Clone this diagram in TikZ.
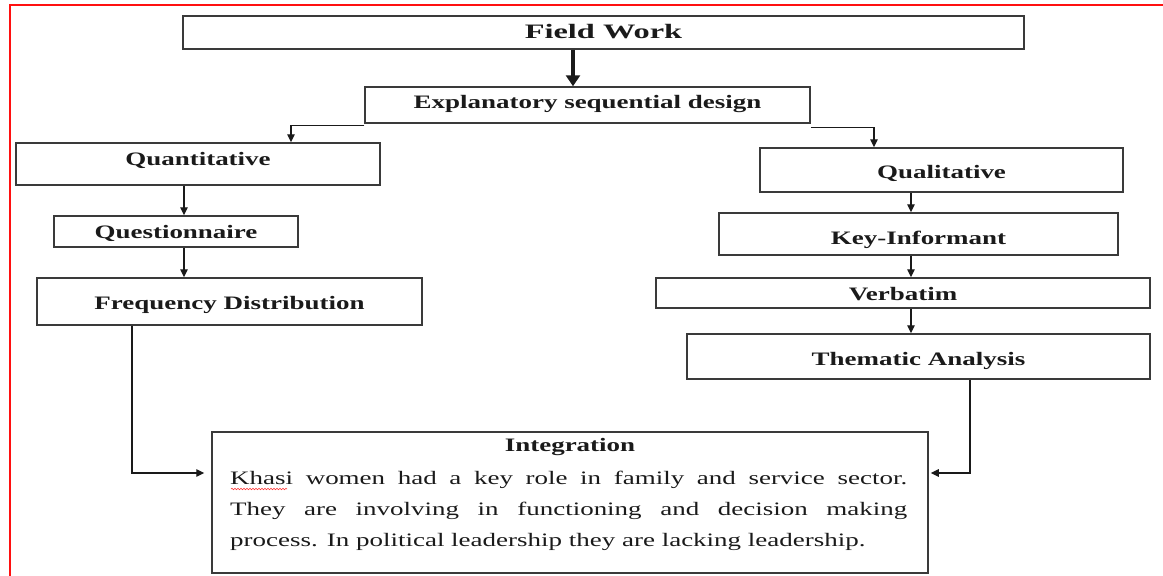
\documentclass[tikz,border=0pt]{standalone}
\usepackage{fontspec}
\setmainfont{Liberation Serif}[FakeStretch=1.42]
\newfontfamily\fwfont{Liberation Serif}[FakeStretch=1.58]
\usetikzlibrary{arrows.meta,decorations.pathmorphing}
\definecolor{boxline}{HTML}{3A3A3A}
\definecolor{inkcol}{HTML}{1A1A1A}
\definecolor{framered}{HTML}{FF1010}
\newcommand{\lift}[2]{\raisebox{#1}{#2}}
\begin{document}
\begin{tikzpicture}[x=1pt,y=-1pt,
  stepbox/.style={draw=boxline,line width=1.5pt,inner sep=0pt,text=inkcol,
    text height=13pt,text depth=4pt,
    font=\fontsize{19}{23}\selectfont\bfseries},
  arr/.style={draw=inkcol,line width=1.3pt,-{Triangle[length=8pt,width=7.5pt]}},
  thickarr/.style={draw=inkcol,line width=3.6pt,-{Triangle[length=11pt,width=14pt]}}]
\useasboundingbox (0,0) rectangle (1163,576);
\fill[white] (0,0) rectangle (1163,576);
% red frame
\draw[framered,line width=2.2pt] (10,590) -- (10,5) -- (1175,5);
% boxes
\node[stepbox,minimum width=841pt,minimum height=33pt] (fw) at (603.5,32.5)
  {\lift{-1.5pt}{\fwfont\fontsize{20.5}{24}\selectfont\bfseries Field Work}};
\node[stepbox,minimum width=445pt,minimum height=36pt] (expl) at (587.5,105)
  {\lift{1pt}{Explanatory sequential design}};
\node[stepbox,minimum width=364pt,minimum height=42pt] (quant) at (198,164)
  {\lift{3pt}{Quantitative}};
\node[stepbox,minimum width=244pt,minimum height=31pt] (quest) at (176,231.5)
  {\lift{-2.5pt}{Questionnaire}};
\node[stepbox,minimum width=385pt,minimum height=47pt] (freq) at (229.5,301.5)
  {\lift{-3.5pt}{Frequency Distribution}};
\node[stepbox,minimum width=363pt,minimum height=44pt] (qual) at (941.5,170)
  {\lift{-4pt}{Qualitative}};
\node[stepbox,minimum width=399pt,minimum height=42pt] (key) at (918.5,234)
  {\lift{-6pt}{Key-Informant}};
\node[stepbox,minimum width=494pt,minimum height=30pt] (verb) at (903,293)
  {\lift{-3pt}{Verbatim}};
\node[stepbox,minimum width=463pt,minimum height=45pt] (them) at (918.5,356.5)
  {\lift{-4.5pt}{Thematic Analysis}};
\node[stepbox,minimum width=716pt,minimum height=141pt] (integ) at (570,502.5) {};
\node[text=inkcol,inner sep=0pt,font=\fontsize{19}{23}\selectfont\bfseries] (ititle) at (570,447) {Integration};
\node[text=inkcol,inner sep=0pt,anchor=base west] (ibody) at (230,484)
  {\parbox[t]{677pt}{\fontsize{19}{31}\selectfont
  Khasi women had a key role in family and service sector.\linebreak
  They are involving in functioning and decision making\linebreak
  process. In political leadership they are lacking leadership.}};
% spell-check squiggle under Khasi
\draw[red!80,line width=0.6pt,decorate,decoration={snake,amplitude=0.7pt,segment length=3pt}]
  (231,489) -- (287,489);
% connectors
\draw[thickarr] ([xshift=-30.5pt]fw.south) -- ([xshift=-30.5pt]fw.south |- expl.north);
\draw[arr] ([yshift=-2pt]expl.south west) -| ([xshift=93pt]quant.north);
\draw[arr] ([yshift=-4pt]expl.south east) -| ([xshift=-67.5pt]qual.north);
\draw[arr] ([xshift=-14pt]quant.south) -- ([xshift=-14pt]quant.south |- quest.north);
\draw[arr] ([xshift=8pt]quest.south) -- ([xshift=8pt]quest.south |- freq.north);
\draw[arr,shorten >=7pt] ([xshift=-97.5pt]freq.south) |- ([yshift=29.5pt]integ.west);
\draw[arr] ([xshift=-30.5pt]qual.south) -- ([xshift=-30.5pt]qual.south |- key.north);
\draw[arr] ([xshift=-7.5pt]key.south) -- ([xshift=-7.5pt]key.south |- verb.north);
\draw[arr] ([xshift=8pt]verb.south) -- ([xshift=8pt]verb.south |- them.north);
\draw[arr,shorten >=2pt] ([xshift=51.5pt]them.south) |- ([yshift=29.5pt]integ.east);
\end{tikzpicture}
\end{document}
